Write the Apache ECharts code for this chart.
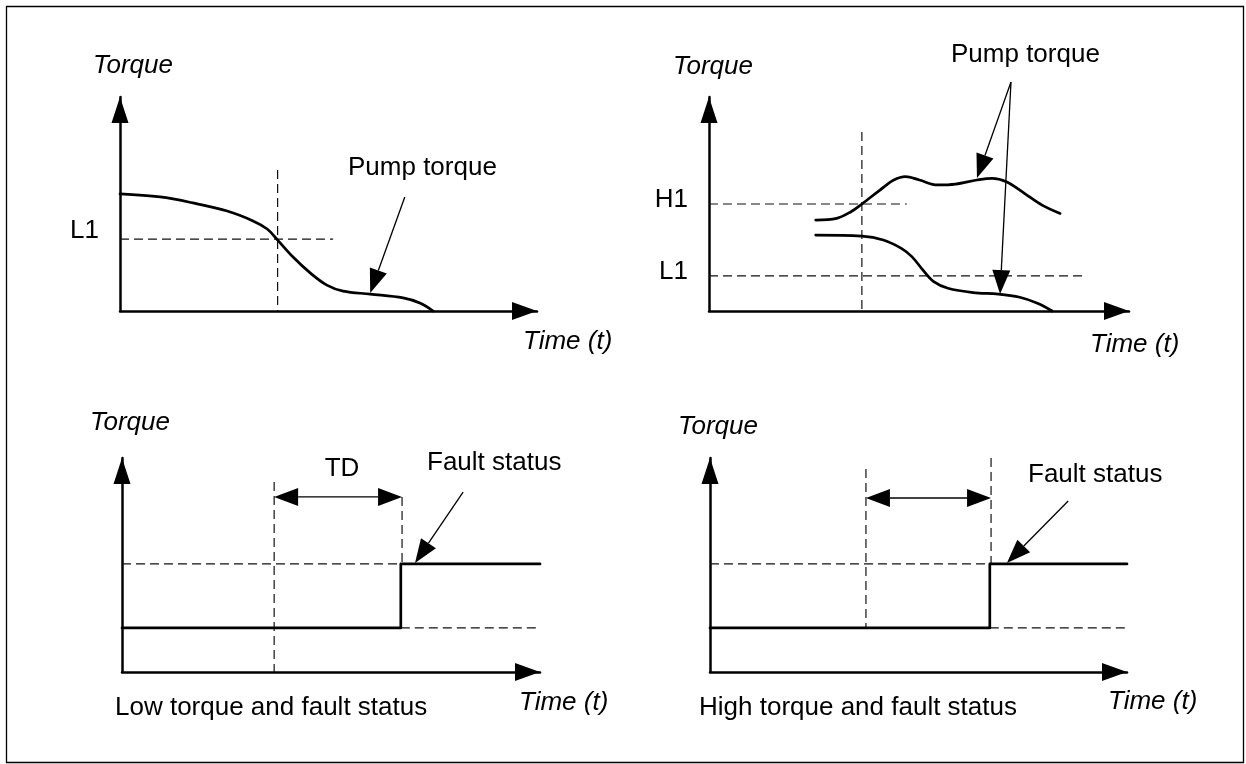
<!DOCTYPE html>
<html>
<head>
<meta charset="utf-8">
<script src="https://cdn.jsdelivr.net/npm/echarts@6/dist/echarts.min.js"></script>
<style>
  html, body { margin: 0; padding: 0; background: #ffffff; }
  #chart { width: 1246px; height: 764px; }
</style>
</head>
<body>
<div id="chart"></div>
<script>
// ---- Panel 1: low torque supervision (time 0..100, torque 0..100) ----
const lowPanelTorque = [[0, 54.7], [9.6, 53.3], [17.5, 50.5], [25.7, 46.7], [31.9, 42.1], [35.3, 38.3],
  [37.6, 33.6], [41.5, 25.2], [45.6, 17.8], [49.6, 12.1], [53.5, 9.3], [60.0, 7.9], [67.9, 6.1],
  [71.9, 3.7], [75.1, 0]];
const lowPanelL1 = 33.6;
const lowPanelL1End = 51.1;
const lowPanelCrossTime = 37.8;
const lowPanelCrossTop = 65.9;
const lowPanelPointer = [[68.3, 53.3, 60.0, 8.4, 0]];

// ---- Panel 2: high and low torque limits ----
const risingTorque = [[25.4, 42.5], [30.4, 43.3], [33.8, 46.4], [36.4, 50.0], [40.7, 56.5], [44.0, 61.2],
  [46.8, 62.8], [50.1, 61.2], [54.4, 58.9], [58.7, 59.3], [63.8, 61.2], [67.4, 62.0], [70.8, 60.4],
  [75.1, 55.0], [79.3, 49.5], [83.6, 45.6]];
const fallingTorque = [[25.4, 35.5], [36.4, 35.0], [41.5, 33.2], [45.8, 29.3], [48.3, 25.4], [50.9, 19.2],
  [53.5, 13.7], [56.9, 10.6], [62.9, 8.6], [68.9, 7.9], [74.0, 6.4], [78.2, 3.6], [81.7, 0]];
const bothPanelH1 = 50.0;
const bothPanelH1End = 47.1;
const bothPanelL1 = 16.4;
const bothPanelL1End = 89.8;
const bothPanelCrossTime = 36.4;
const bothPanelCrossTop = 83.6;
const bothPanelPointers = [[71.9, 107.0, 63.8, 62.1, 0], [71.9, 107.0, 69.3, 7.9, 0]];

// ---- Panel 3: low torque and fault status ----
const statusOff = 20.6;
const statusOn = 50.5;
const lowFaultTrip = 66.7;
const lowDelayStart = 36.4;
const lowDelayEnd = 67.0;
const lowDelayStartTop = 88.8;
const lowDelayLevel = 81.8;
const lowFaultPointers = [[lowDelayStart, lowDelayLevel, lowDelayEnd, lowDelayLevel, 1], [81.6, 84.1, 70.1, 50.9, 0]];

// ---- Panel 4: high torque and fault status ----
const highFaultTrip = 67.1;
const highDelayStart = 37.4;
const highDelayEnd = 67.4;
const highDelayStartTop = 94.9;
const highDelayEndTop = 100;
const highDelayLevel = 81.3;
const highFaultPointers = [[highDelayStart, highDelayLevel, highDelayEnd, highDelayLevel, 1], [85.9, 79.9, 71.2, 50.9, 0]];

const INK = '#000000';
const GUIDE = '#111111';
const FONT = '"Liberation Sans", Arial, sans-serif';

const grids = [
  { left: 120, top: 97, width: 417, height: 214 },
  { left: 709, top: 97, width: 420, height: 214 },
  { left: 122, top: 458, width: 418, height: 214 },
  { left: 710, top: 458, width: 417, height: 214 }
];

function xAxisFor(gi) {
  return {
    type: 'value', gridIndex: gi, min: 0, max: 100,
    axisLine: { show: true, onZero: false, symbol: ['none', 'triangle'], symbolSize: [18, 25],
      symbolOffset: [0, -12.5], lineStyle: { color: INK, width: 2.5 } },
    axisTick: { show: false }, axisLabel: { show: false }, splitLine: { show: false }
  };
}
function yAxisFor(gi) {
  return {
    type: 'value', gridIndex: gi, min: 0, max: 100,
    axisLine: { show: true, onZero: false, symbol: ['none', 'triangle'], symbolSize: [17, 26],
      symbolOffset: [0, -13], lineStyle: { color: INK, width: 2.5 } },
    axisTick: { show: false }, axisLabel: { show: false }, splitLine: { show: false }
  };
}

function trace(gi, data, opts) {
  opts = opts || {};
  return {
    type: 'line', xAxisIndex: gi, yAxisIndex: gi, data: data,
    symbol: 'none', showSymbol: false, clip: false, silent: true, animation: false,
    smooth: opts.smooth || false, connectNulls: false, z: opts.z || 3,
    lineStyle: opts.dashed
      ? { color: GUIDE, width: 1.2, type: [9, 5] }
      : { color: INK, width: 2.7, cap: 'round', join: 'round' }
  };
}

// Straight pointer arrows with filled heads; the fifth value marks a double-headed arrow
function pointers(gi, items) {
  return {
    type: 'custom', coordinateSystem: 'cartesian2d', xAxisIndex: gi, yAxisIndex: gi,
    data: items, silent: true, animation: false, clip: false, z: 6,
    renderItem: function (params, api) {
      const a = api.coord([api.value(0), api.value(1)]);
      const b = api.coord([api.value(2), api.value(3)]);
      const both = api.value(4) === 1;
      const len = 24, half = 9;
      const dx = b[0] - a[0], dy = b[1] - a[1];
      const d = Math.sqrt(dx * dx + dy * dy);
      const ux = dx / d, uy = dy / d, nx = -uy, ny = ux;
      function head(tip, sx, sy) {
        const bx = tip[0] - sx * len, by = tip[1] - sy * len;
        return {
          type: 'polygon',
          shape: { points: [tip, [bx + nx * half, by + ny * half], [bx - nx * half, by - ny * half]] },
          style: { fill: INK }
        };
      }
      const start = both ? [a[0] + ux * len, a[1] + uy * len] : a;
      const end = [b[0] - ux * len, b[1] - uy * len];
      const children = [{
        type: 'line', shape: { x1: start[0], y1: start[1], x2: end[0], y2: end[1] },
        style: { stroke: INK, lineWidth: 1.3 }
      }, head(b, ux, uy)];
      if (both) children.push(head(a, -ux, -uy));
      return { type: 'group', children: children };
    }
  };
}

const series = [
  // Panel 1
  trace(0, [[0, lowPanelL1], [lowPanelL1End, lowPanelL1]], { dashed: true }),
  trace(0, [[lowPanelCrossTime, lowPanelCrossTop], [lowPanelCrossTime, 0]], { dashed: true }),
  trace(0, lowPanelTorque, { smooth: 0.35 }),
  pointers(0, lowPanelPointer),
  // Panel 2
  trace(1, [[0, bothPanelH1], [bothPanelH1End, bothPanelH1]], { dashed: true }),
  trace(1, [[0, bothPanelL1], [bothPanelL1End, bothPanelL1]], { dashed: true }),
  trace(1, [[bothPanelCrossTime, bothPanelCrossTop], [bothPanelCrossTime, 0]], { dashed: true }),
  trace(1, risingTorque, { smooth: 0.35 }),
  trace(1, fallingTorque, { smooth: 0.35 }),
  pointers(1, bothPanelPointers),
  // Panel 3
  trace(2, [[0, statusOn], [lowFaultTrip, statusOn]], { dashed: true }),
  trace(2, [[lowFaultTrip, statusOff], [100, statusOff]], { dashed: true }),
  trace(2, [[lowDelayStart, lowDelayStartTop], [lowDelayStart, 0]], { dashed: true }),
  trace(2, [[lowDelayEnd, lowDelayLevel], [lowDelayEnd, statusOn]], { dashed: true }),
  trace(2, [[0, statusOff], [lowFaultTrip, statusOff], [lowFaultTrip, statusOn], [100, statusOn]]),
  pointers(2, lowFaultPointers),
  // Panel 4
  trace(3, [[0, statusOn], [highFaultTrip, statusOn]], { dashed: true }),
  trace(3, [[highFaultTrip, statusOff], [100, statusOff]], { dashed: true }),
  trace(3, [[highDelayStart, highDelayStartTop], [highDelayStart, statusOff]], { dashed: true }),
  trace(3, [[highDelayEnd, highDelayEndTop], [highDelayEnd, statusOn]], { dashed: true }),
  trace(3, [[0, statusOff], [highFaultTrip, statusOff], [highFaultTrip, statusOn], [100, statusOn]]),
  pointers(3, highFaultPointers)
];

function label(text, x, y, opts) {
  opts = opts || {};
  const align = opts.align || 'left';
  return {
    type: 'text', x: x, y: y, silent: true, z: 10,
    style: {
      text: text, fill: INK,
      font: (opts.italic ? 'italic ' : '') + '26px ' + FONT,
      align: align, textAlign: align, verticalAlign: 'middle', textVerticalAlign: 'middle'
    }
  };
}

const texts = [
  label('Torque', 93, 66, { italic: true }),
  label('L1', 99, 231, { align: 'right' }),
  label('Pump torque', 348, 168),
  label('Time (t)', 523, 342, { italic: true }),

  label('Torque', 673, 67, { italic: true }),
  label('H1', 688, 200, { align: 'right' }),
  label('L1', 688, 272, { align: 'right' }),
  label('Pump torque', 951, 55),
  label('Time (t)', 1090, 345, { italic: true }),

  label('Torque', 90, 423, { italic: true }),
  label('TD', 342, 469, { align: 'center' }),
  label('Fault status', 427, 463),
  label('Low torque and fault status', 115, 708),
  label('Time (t)', 519, 703, { italic: true }),

  label('Torque', 678, 427, { italic: true }),
  label('Fault status', 1028, 475),
  label('High torque and fault status', 699, 708),
  label('Time (t)', 1108, 702, { italic: true })
];

const chart = echarts.init(document.getElementById('chart'), null, { renderer: 'canvas' });
chart.setOption({
  backgroundColor: '#ffffff',
  animation: false,
  grid: grids,
  xAxis: grids.map(function (g, i) { return xAxisFor(i); }),
  yAxis: grids.map(function (g, i) { return yAxisFor(i); }),
  series: series,
  graphic: { elements: [{
    type: 'rect', silent: true, z: 0,
    shape: { x: 6.5, y: 6.5, width: 1237, height: 756 },
    style: { fill: 'none', stroke: '#000000', lineWidth: 1.3 }
  }].concat(texts) }
});
</script>
</body>
</html>
